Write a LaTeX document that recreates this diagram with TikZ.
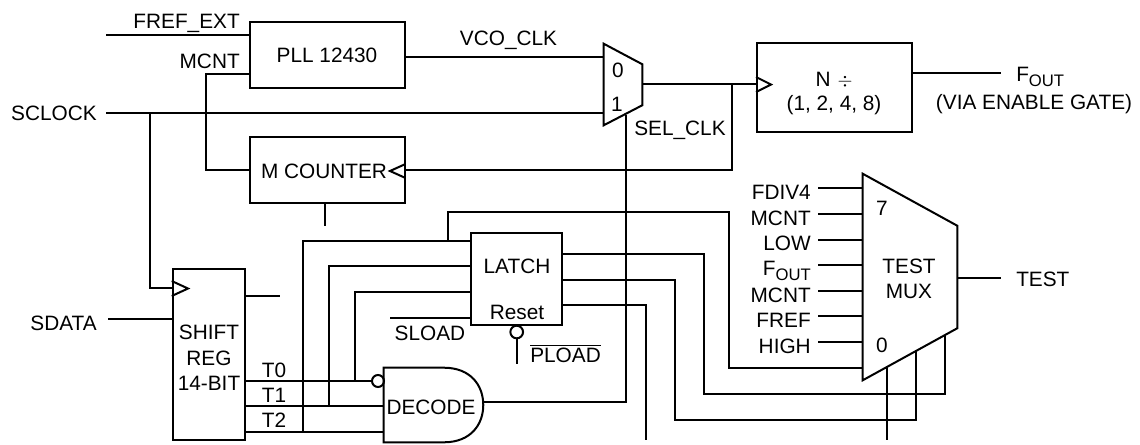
\documentclass[tikz,border=0pt]{standalone}
\usepackage{fontspec}
\setmainfont{Liberation Sans}
\usetikzlibrary{calc}
\newcommand{\foutlabel}{F\raisebox{-0.28em}{\fontsize{12.5}{14}\selectfont OUT}}
\tikzset{
  x=0.75pt,y=-0.75pt,
  every node/.style={font=\fontsize{15.6}{18}\selectfont},
  wire/.style={line width=1.5pt,line join=miter,line cap=butt},
  blockbox/.style={draw,line width=1.5pt,inner sep=0,align=center},
  hull/.style={inner sep=0,align=center},
  txt/.style={inner sep=0},
  clocktip/.style={line width=1.5pt,line join=miter},
}
\begin{document}
\begin{tikzpicture}
\useasboundingbox (0,0) rectangle (1140,444);
% blocks
\node[blockbox,minimum width=116.25pt,minimum height=49.5pt] (pll) at (327,55) {PLL 12430};
\node[blockbox,minimum width=116.25pt,minimum height=49.5pt] (mcounter) at (327,170) {};
\node[txt] (mcountertext) at (324,171) {M COUNTER};
\node[blockbox,minimum width=116.25pt,minimum height=66.75pt] (ndiv) at (834.5,87) {};
\node[hull] (ndivtext) at (834,93) {N\,\,$\div$\\[0pt](1, 2, 4, 8)};
\node[blockbox,minimum width=54.4pt,minimum height=128.25pt] (shift) at (209,354.7) {};
\node[hull] (shifttext) at (209,358) {SHIFT\\[1pt]REG\\[1pt]14-BIT};
\node[blockbox,minimum width=68.6pt,minimum height=69pt] (latch) at (516.7,279) {};
\node[txt] (latchtext) at (517,266) {LATCH};
\node[txt] (resettext) at (517,312) {Reset};
% mux 0/1
\node[hull,minimum width=28.5pt,minimum height=60.75pt] (clkmux) at (623,84.5) {};
\draw[wire] (clkmux.north west) -- ($(clkmux.north east)+(0,20.5)$) -- ($(clkmux.south east)+(0,-20)$) -- (clkmux.south west) -- cycle;
\node[txt] (clkmux0) at (618,70) {0};
\node[txt] (clkmux1) at (617,104) {1};
% test mux
\node[hull,minimum width=70.5pt,minimum height=154.5pt] (testmux) at (910,277) {};
\draw[wire] (testmux.north west) -- ($(testmux.north east)+(0,52)$) -- ($(testmux.south east)+(0,-52)$) -- (testmux.south west) -- cycle;
\node[txt] (testmux7) at (882,208) {7};
\node[txt] (testmux0) at (882,345) {0};
\node[hull] (testmuxtext) at (909,279) {TEST\\[1pt]MUX};
% decode gate
\node[hull,minimum width=74.25pt,minimum height=55.5pt] (decode) at (433.5,405) {};
\node[txt] (decodetext) at (431,407) {DECODE};
\draw[wire] (decode.north west) -- ($(decode.north west)+(61,0)$)
  .. controls ($(decode.east)+(-13,-37)$) and ($(decode.east)+(0,-20)$) .. (decode.east)
  .. controls ($(decode.east)+(0,20)$) and ($(decode.east)+(-13,37)$) .. ($(decode.south west)+(61,0)$)
  -- (decode.south west) -- cycle;
% bubbles
\node[draw,line width=1.5pt,circle,minimum size=9pt,inner sep=0] (t0bub) at (378,381) {};
\node[draw,line width=1.5pt,circle,minimum size=9.5pt,inner sep=0] (pbub) at (516.7,332) {};
% labels
\node[txt,anchor=base east] (lfref) at (240,28) {FREF\_EXT};
\node[txt,anchor=base east] (lmcnt) at (240,68) {MCNT};
\node[txt,anchor=base east] (lsclock) at (97,120) {SCLOCK};
\node[txt,anchor=base east] (lsdata) at (97,330) {SDATA};
\node[txt,anchor=base] (lvco) at (508.5,45) {VCO\_CLK};
\node[txt,anchor=base] (lsel) at (680,135) {SEL\_CLK};
\node[txt,anchor=base west] (lfout) at (1016,81) {\foutlabel};
\node[txt,anchor=base] (lvia) at (1034,109) {(VIA ENABLE GATE)};
\node[txt,anchor=base west] (ltest) at (1016,286) {TEST};
\node[txt,anchor=base] (lsload) at (430,340) {SLOAD};
\node[txt,anchor=base west] (lpload) at (530,362) {$\overline{\mbox{PLOAD}}$};
\node[txt,anchor=base] (lt0) at (274,377) {T0};
\node[txt,anchor=base] (lt1) at (274,402) {T1};
\node[txt,anchor=base] (lt2) at (274,427) {T2};
\node[txt,anchor=base east] (i7) at (811,199) {FDIV4};
\node[txt,anchor=base east] (i6) at (811,225) {MCNT};
\node[txt,anchor=base east] (i5) at (811,250) {LOW};
\node[txt,anchor=base east] (i4) at (811,275) {\foutlabel};
\node[txt,anchor=base east] (i3) at (811,302) {MCNT};
\node[txt,anchor=base east] (i2) at (811,327) {FREF};
\node[txt,anchor=base east] (i1) at (811,353) {HIGH};
% free ends and pins
\coordinate (frefin) at (106,35);
\coordinate (mcntpin) at (249,74);
\coordinate (mcntbus) at (206,74);
\coordinate (sclockin) at (106,113);
\coordinate (sclockjoin) at (150,113);
\coordinate (shiftclk) at (173,288);
\coordinate (mcstub) at (325,226);
\coordinate (shiftstub) at (280,296);
\coordinate (sdatain) at (108,319);
\coordinate (vcoy) at (0,56.5);
\coordinate (outy) at (0,84);
\coordinate (feedx) at (732,0);
\coordinate (foutend) at (1001,73);
\coordinate (testend) at (1001,277.5);
\coordinate (selx) at (625.5,114.5);
\coordinate (decy) at (0,402);
\coordinate (sloadin) at (390,318);
\coordinate (ploadin) at (516.7,364);
\coordinate (t0y) at (0,381);
\coordinate (t1y) at (0,406);
\coordinate (t2y) at (0,432);
\coordinate (la) at (303,241);
\coordinate (lb) at (329,266);
\coordinate (lc) at (355,292);
\coordinate (ld) at (448,212);
\coordinate (le) at (729,212);
\coordinate (sely) at (0,367.7);
\coordinate (q0) at (703.5,254);
\coordinate (q0b) at (703.5,394);
\coordinate (q0c) at (945,394);
\coordinate (q0d) at (945,335);
\coordinate (q1) at (674.5,280);
\coordinate (q1b) at (674.5,419.5);
\coordinate (q1c) at (915.5,419.5);
\coordinate (q1d) at (915.5,351);
\coordinate (q2) at (645.5,305);
\coordinate (q2b) at (645.5,440);
\coordinate (sel0) at (886.7,367);
\coordinate (sel0b) at (886.7,440);
% wires
\draw[wire] (frefin) -- (frefin -| pll.west);
\draw[wire] (mcntpin) -- (mcntbus) -- (mcntbus |- mcounter.west) -- (mcounter.west);
\draw[wire] (sclockin) -- (sclockin -| clkmux.west);
\draw[wire] (sclockjoin) -- (sclockjoin |- shiftclk) -- (shiftclk);
\draw[wire] (mcstub |- mcounter.south) -- (mcstub);
\draw[wire] (shift.east |- shiftstub) -- (shiftstub);
\draw[wire] (sdatain) -- (sdatain -| shift.west);
\draw[wire] (pll.east |- vcoy) -- (clkmux.west |- vcoy);
\draw[wire] (clkmux.east |- outy) -- (ndiv.west |- outy);
\draw[wire] (feedx |- outy) -- (feedx |- mcounter.east) -- (mcounter.east);
\draw[wire] (ndiv.east |- foutend) -- (foutend);
\draw[wire] (testmux.east |- testend) -- (testend);
\draw[wire] (selx) -- (selx |- decy) -- (decode.east |- decy);
\draw[wire] (sloadin) -- (sloadin -| latch.west);
\draw[wire] (pbub.south) -- (ploadin);
\draw[wire] (shift.east |- t0y) -- (t0bub.west);
\draw[wire] (shift.east |- t1y) -- (decode.west |- t1y);
\draw[wire] (shift.east |- t2y) -- (decode.west |- t2y);
\draw[wire] (la -| latch.west) -- (la) -- (la |- t2y);
\draw[wire] (lb -| latch.west) -- (lb) -- (lb |- t1y);
\draw[wire] (lc -| latch.west) -- (lc) -- (lc |- t0y);
\draw[wire] (ld |- la) -- (ld) -- (le) -- (le |- sely) -- (testmux.west |- sely);
\draw[wire] (q0 -| latch.east) -- (q0) -- (q0b) -- (q0c) -- (q0d);
\draw[wire] (q1 -| latch.east) -- (q1) -- (q1b) -- (q1c) -- (q1d);
\draw[wire] (q2 -| latch.east) -- (q2) -- (q2b);
\draw[wire] (sel0) -- (sel0b);
\foreach \n/\y in {7/188,6/214,5/239.5,4/265,3/290.5,2/316,1/342}
  \draw[wire] (818,\y) -- (testmux.west |- 0,\y);
% clock triangles
\draw[clocktip] (ndiv.west |- 0,77) -- (771,84.5) -- (ndiv.west |- 0,92);
\draw[clocktip] (mcounter.east |- 0,164) -- (390,171) -- (mcounter.east |- 0,178);
\draw[clocktip] (shift.west |- 0,281) -- (188,288.5) -- (shift.west |- 0,296);
\end{tikzpicture}
\end{document}
